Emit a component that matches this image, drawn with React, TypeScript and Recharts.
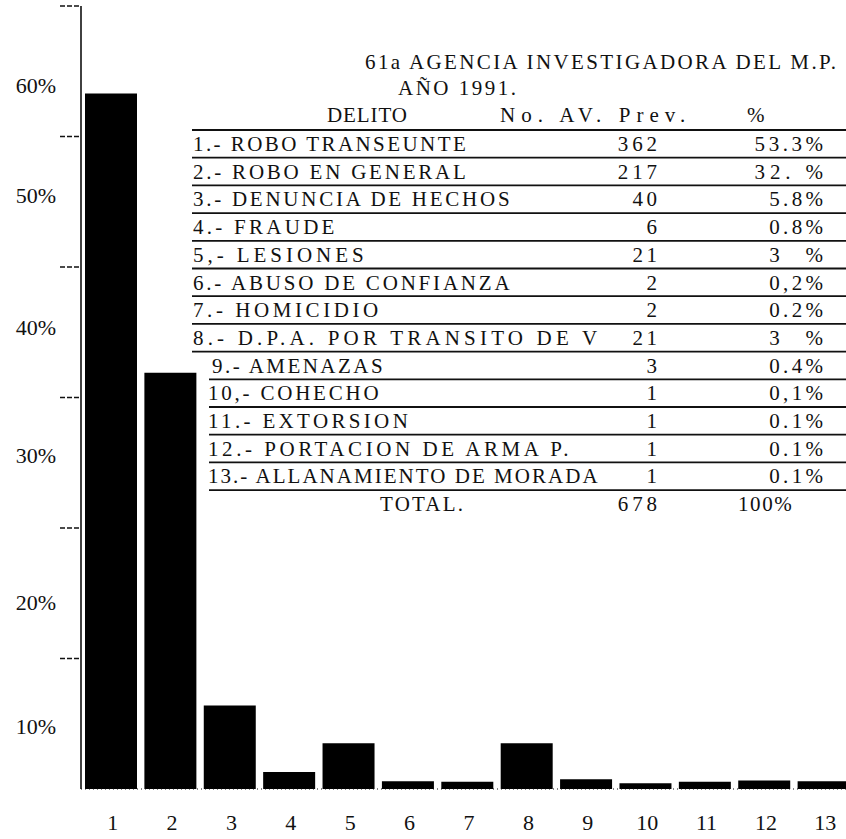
import React from "react";
import { BarChart, Bar, XAxis, YAxis } from "recharts";

if (typeof document !== "undefined") {
  document.body.style.margin = "0";
}

// ---- data ----
const categories = ["1", "2", "3", "4", "5", "6", "7", "8", "9", "10", "11", "12", "13"];
const barValues = [53.3, 31.9, 6.4, 1.3, 3.5, 0.6, 0.55, 3.5, 0.75, 0.45, 0.55, 0.65, 0.6];

const yTickValues = [10, 20, 30, 40, 50, 60];
const yLabelValues = [4.8, 14.3, 25.6, 35.4, 45.5, 53.9];
const yLabelTexts = ["10%", "20%", "30%", "40%", "50%", "60%"];

const titleLines = ["61a AGENCIA INVESTIGADORA DEL M.P.", "AÑO 1991."];
const headers = ["DELITO", "No. AV. Prev.", "%"];
const delitos = [
  "1.- ROBO TRANSEUNTE",
  "2.- ROBO EN GENERAL",
  "3.- DENUNCIA DE HECHOS",
  "4.- FRAUDE",
  "5,- LESIONES",
  "6.- ABUSO DE CONFIANZA",
  "7.- HOMICIDIO",
  "8.- D.P.A. POR TRANSITO DE V",
  "9.- AMENAZAS",
  "10,- COHECHO",
  "11.- EXTORSION",
  "12.- PORTACION DE ARMA P.",
  "13.- ALLANAMIENTO DE MORADA",
];
const averiguaciones = ["362", "217", "40", "6", "21", "2", "2", "21", "3", "1", "1", "1", "1"];
const porcentajes = ["53.3%", "32. %", "5.8%", "0.8%", "3  %", "0,2%", "0.2%", "3  %", "0.4%", "0,1%", "0.1%", "0.1%", "0.1%"];
const totalRow = ["TOTAL.", "678", "100%"];

const data = categories.map((c, i) => ({ cat: c, v: barValues[i] }));
const yAllTicks = [...yTickValues, ...yLabelValues].sort((a, b) => a - b);

const SERIF = "'Liberation Serif', 'DejaVu Serif', serif";
const INK = "#111";

const YTick = (props: any) => {
  const { x, y, payload } = props;
  const li = yLabelValues.indexOf(payload.value);
  if (li >= 0) {
    return (
      <text x={x - 25} y={y} dy="0.35em" textAnchor="end" fontFamily={SERIF} fontSize={22} fill={INK}>
        {yLabelTexts[li]}
      </text>
    );
  }
  return <line x1={x - 21} x2={x} y1={y} y2={y} stroke={INK} strokeWidth={1.6} strokeDasharray="5 2" />;
};

// ---- table overlay (typewritten text) ----
const PITCH = 14.6;
const spanLen = (s: string, p: number) => (s.length - 1) * p + 10;

const TT = ({ x, y, s, p = PITCH, anchor = "start", size = 21 }: any) => (
  <text
    x={x}
    y={y}
    textAnchor={anchor}
    textLength={spanLen(s, p)}
    lengthAdjust="spacing"
    fontSize={size}
    fontFamily={SERIF}
    fill={INK}
    style={{ whiteSpace: "pre" }}
  >
    {s}
  </text>
);

const HEAD_LINE = 130;
const ROW_H = 27.7;

const TableOverlay = () => {
  const rows = delitos.map((d, i) => {
    const top = HEAD_LINE + i * ROW_H;
    const base = top + 21;
    const lineY = top + ROW_H;
    const tx = i < 8 ? 193 : i === 8 ? 212 : 208;
    const lx = i < 8 ? 192 : 209;
    return (
      <g key={i}>
        <TT x={tx} y={base} s={d} />
        <TT x={657} y={base} s={averiguaciones[i]} anchor="end" />
        <TT x={823} y={base} s={porcentajes[i]} anchor="end" />
        <line x1={lx} x2={846} y1={lineY} y2={lineY} stroke={INK} strokeWidth={1.8} />
      </g>
    );
  });
  const totalBase = HEAD_LINE + 13 * ROW_H + 21;
  return (
    <svg width={846} height={839} style={{ position: "absolute", left: 0, top: 0, pointerEvents: "none" }}>
      <TT x={365} y={69} s={titleLines[0]} p={13.97} />
      <TT x={398} y={95} s={titleLines[1]} p={13.5} />
      <TT x={327} y={122} s={headers[0]} p={14} />
      <TT x={500} y={122} s={headers[1]} />
      <TT x={747} y={122} s={headers[2]} />
      <line x1={192} x2={846} y1={HEAD_LINE} y2={HEAD_LINE} stroke={INK} strokeWidth={1.8} />
      {rows}
      <TT x={380} y={totalBase} s={totalRow[0]} />
      <TT x={657} y={totalBase} s={totalRow[1]} anchor="end" />
      <TT x={738} y={totalBase} s={totalRow[2]} />
    </svg>
  );
};

export default function App() {
  return (
    <div style={{ position: "relative", width: 846, height: 839, overflow: "hidden", background: "#fff" }}>
      <BarChart width={853} height={839} data={data} margin={{ top: 6, right: 0, left: 0, bottom: 0 }} barSize={52}>
        <XAxis
          dataKey="cat"
          height={50}
          interval={0}
          tickLine={false}
          tickSize={0}
          tickMargin={25}
          axisLine={{ stroke: INK, strokeWidth: 1, strokeDasharray: "1 3" }}
          tick={{ fontFamily: SERIF, fontSize: 22, fill: INK, dx: 2 }}
        />
        <YAxis
          type="number"
          domain={[0, 60]}
          ticks={yAllTicks}
          interval={0}
          width={81}
          tickLine={false}
          tickSize={0}
          tickMargin={0}
          axisLine={{ stroke: INK, strokeWidth: 1.6 }}
          tick={<YTick />}
        />
        <Bar dataKey="v" fill="#000" isAnimationActive={false} />
      </BarChart>
      <TableOverlay />
    </div>
  );
}
